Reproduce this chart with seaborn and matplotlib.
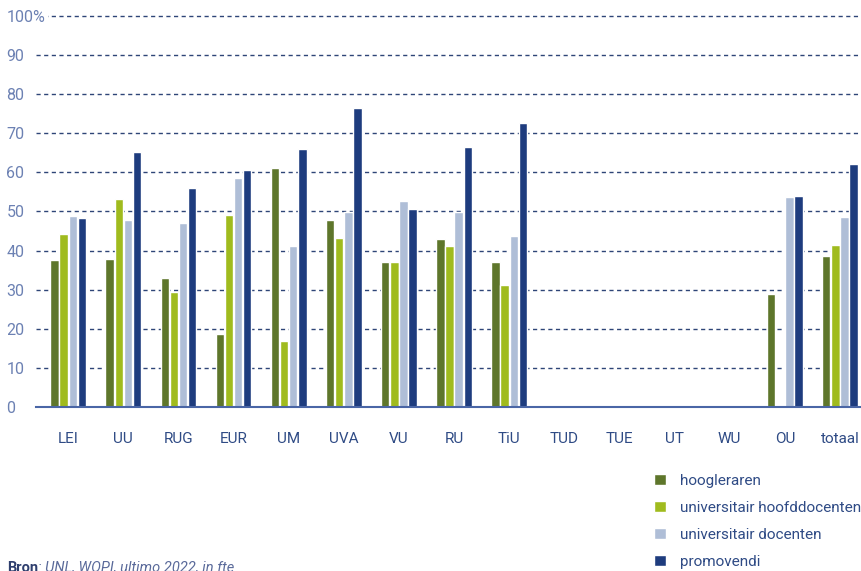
import pandas as pd
import numpy as np
import matplotlib
matplotlib.use("Agg")
import matplotlib.pyplot as plt
import seaborn as sns

sns.set_theme(style="white")
plt.rcParams['font.family'] = ['Roboto', 'DejaVu Sans']

universities = ['LEI', 'UU', 'RUG', 'EUR', 'UM', 'UVA', 'VU', 'RU', 'TiU',
                'TUD', 'TUE', 'UT', 'WU', 'OU', 'totaal']
categories = ['hoogleraren', 'universitair hoofddocenten',
              'universitair docenten', 'promovendi']

hoogleraren = [37.6, 37.9, 33.0, 18.6, 61.0, 47.8, 37.1, 43.0, 37.1,
               np.nan, np.nan, np.nan, np.nan, 29.0, 38.6]
hoofddocenten = [44.2, 53.1, 29.5, 49.1, 16.8, 43.2, 37.1, 41.2, 31.3,
                 np.nan, np.nan, np.nan, np.nan, np.nan, 41.4]
docenten = [48.8, 47.8, 47.0, 58.5, 41.2, 49.8, 52.6, 49.8, 43.7,
            np.nan, np.nan, np.nan, np.nan, 53.6, 48.6]
promovendi = [48.3, 65.1, 55.9, 60.5, 65.9, 76.3, 50.6, 66.4, 72.7,
              np.nan, np.nan, np.nan, np.nan, 53.9, 62.0]

colors = ['#5e762b', '#a0bb1e', '#afbed7', '#1e3c7e']

series = [hoogleraren, hoofddocenten, docenten, promovendi]
rows = []
for cat, vals in zip(categories, series):
    for uni, v in zip(universities, vals):
        rows.append({'uni': uni, 'functie': cat, 'pct': v})
df = pd.DataFrame(rows).dropna()

fig = plt.figure(figsize=(8.62, 5.71), dpi=100)
ax = fig.add_axes([0.042, 0.287, 0.958, 0.689])

sns.barplot(data=df, x='uni', y='pct', hue='functie', order=universities,
            hue_order=categories, palette=colors, width=0.66, gap=0.08,
            errorbar=None, saturation=1, ax=ax, zorder=3)

ax.set_xlim(-0.58, 14.4)
ax.set_ylim(0, 100.5)
ax.set_yticks(range(0, 101, 10))
ax.set_yticklabels([str(v) for v in range(0, 100, 10)] + ['100%'])
ax.yaxis.grid(True, color='#2e4577', linestyle=(0, (3, 2.5)), linewidth=1)
ax.set_axisbelow(True)
for side in ['top', 'left', 'right']:
    ax.spines[side].set_visible(False)
ax.spines['bottom'].set_color('#4a66a6')
ax.spines['bottom'].set_linewidth(1.5)
ax.spines['bottom'].set_zorder(5)
ax.tick_params(axis='y', length=0, pad=21.5, labelsize=11.5, labelcolor='#6c81b3')
ax.tick_params(axis='x', length=0, pad=18, labelsize=11, labelcolor='#2f4b85')
for lbl in ax.get_yticklabels():
    lbl.set_horizontalalignment('left')
    lbl.set_bbox(dict(facecolor='white', edgecolor='none', pad=2))
ax.set_xlabel('')
ax.set_ylabel('')

handles, labels = ax.get_legend_handles_labels()
ax.legend_.remove()
fig.legend(handles, labels, loc='upper left', bbox_to_anchor=(0.752, 0.181),
           frameon=False, fontsize=11, labelcolor='#2f4b85',
           handlelength=0.75, handleheight=0.75, handletextpad=0.9,
           labelspacing=0.85, borderaxespad=0)

fig.text(0.008, 0.018, 'Bron', fontsize=10.5, fontweight='bold',
         color='#2f3f6e', va='top')
fig.text(0.044, 0.018, ': UNL, WOPI, ultimo 2022, in fte', fontsize=10.5,
         style='italic', color='#5a6a9a', va='top')

fig.savefig('out.png', dpi=100)
